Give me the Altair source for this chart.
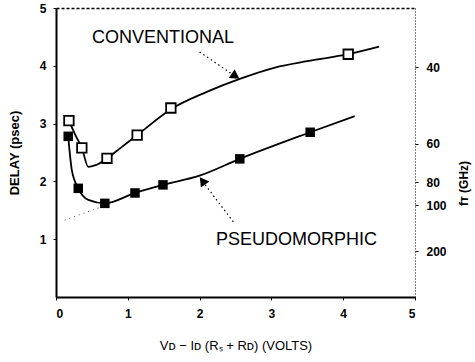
import math
import altair as alt
import pandas as pd

# ---- data ----
conv_line_x = [0.18, 0.27, 0.36, 0.45, 0.55, 0.71, 0.90, 1.13, 1.60, 2.10, 2.55, 3.05, 3.50, 4.07, 4.50]
conv_line_y = [3.05, 2.80, 2.58, 2.25, 2.28, 2.40, 2.58, 2.80, 3.25, 3.55, 3.77, 3.97, 4.08, 4.20, 4.33]
conv_mark_x = [0.18, 0.36, 0.71, 1.13, 1.60, 4.07]
conv_mark_y = [3.05, 2.58, 2.40, 2.80, 3.27, 4.20]

pseu_line_x = [0.17, 0.22, 0.31, 0.45, 0.68, 1.10, 1.49, 2.00, 2.56, 3.54, 4.16]
pseu_line_y = [2.78, 2.20, 1.88, 1.68, 1.62, 1.80, 1.94, 2.10, 2.39, 2.85, 3.13]
pseu_mark_x = [0.17, 0.31, 0.68, 1.10, 1.49, 2.56, 3.54]
pseu_mark_y = [2.78, 1.88, 1.62, 1.80, 1.94, 2.39, 2.85]

extrap_x = [0.12, 0.68]
extrap_y = [1.33, 1.58]

ft_ghz = [40, 60, 80, 100, 200]

labels_text = ["CONVENTIONAL", "PSEUDOMORPHIC"]
labels_x = [1.49, 3.35]
labels_y = [4.48, 0.98]
arrow_x1 = [2.00, 2.47]
arrow_y1 = [4.24, 1.30]
arrow_x2 = [2.52, 2.03]
arrow_y2 = [3.80, 2.02]
head_x = [2.50, 2.04]
head_y = [3.82, 2.01]
head_angle = [124, 324]

FONT = "Liberation Sans"

xs = alt.Scale(domain=[0, 5], nice=False, zero=False)
ys = alt.Scale(domain=[0, 5], nice=False, zero=False)

conv_line = pd.DataFrame({"x": conv_line_x, "y": conv_line_y})
conv_mark = pd.DataFrame({"x": conv_mark_x, "y": conv_mark_y})
pseu_line = pd.DataFrame({"x": pseu_line_x, "y": pseu_line_y})
pseu_mark = pd.DataFrame({"x": pseu_mark_x, "y": pseu_mark_y})
extrap = pd.DataFrame({"x": extrap_x, "y": extrap_y})
ft_df = pd.DataFrame({"f": ft_ghz, "d": [1000 / (2 * math.pi * f) for f in ft_ghz]})
lab_df = pd.DataFrame({"t": labels_text, "x": labels_x, "y": labels_y})
arr_df = pd.DataFrame({"x": arrow_x1, "y": arrow_y1, "x2": arrow_x2, "y2": arrow_y2})
head_df = pd.DataFrame({"x": head_x, "y": head_y, "a": head_angle})

x_axis = alt.Axis(values=[0, 1, 2, 3, 4, 5], title="Vᴅ − Iᴅ (Rₛ + Rᴅ) (VOLTS)",
                  labelFont=FONT, labelFontWeight="bold", labelFontSize=12, labelPadding=8,
                  titleFont=FONT, titleFontWeight="normal", titleFontSize=13, titlePadding=20,
                  domainColor="black", domainWidth=2, tickColor="black", tickSize=3,
                  grid=False, labelColor="black", titleColor="black")
y_axis = alt.Axis(values=[1, 2, 3, 4, 5], title="DELAY (psec)",
                  labelFont=FONT, labelFontWeight="bold", labelFontSize=12, labelPadding=7,
                  titleFont=FONT, titleFontWeight="bold", titleFontSize=13, titlePadding=18,
                  domainColor="black", domainWidth=2, tickColor="black", tickSize=3,
                  grid=False, labelColor="black", titleColor="black")

base_line = alt.Chart(conv_line).mark_line(color="black", strokeWidth=1.8, interpolate="monotone").encode(
    x=alt.X("x:Q", scale=xs, axis=x_axis),
    y=alt.Y("y:Q", scale=ys, axis=y_axis),
)
pseu = alt.Chart(pseu_line).mark_line(color="black", strokeWidth=1.8, interpolate="monotone").encode(
    x=alt.X("x:Q", scale=xs, axis=None), y=alt.Y("y:Q", scale=ys, axis=None))
ext = alt.Chart(extrap).mark_line(color="#555", strokeWidth=1, strokeDash=[1, 4]).encode(
    x=alt.X("x:Q", scale=xs, axis=None), y=alt.Y("y:Q", scale=ys, axis=None))
cm = alt.Chart(conv_mark).mark_point(shape="square", size=90, filled=True, fill="white",
                                     stroke="black", strokeWidth=1.8, opacity=1).encode(
    x=alt.X("x:Q", scale=xs, axis=None), y=alt.Y("y:Q", scale=ys, axis=None))
pm = alt.Chart(pseu_mark).mark_point(shape="square", size=90, filled=True, color="black", opacity=1).encode(
    x=alt.X("x:Q", scale=xs, axis=None), y=alt.Y("y:Q", scale=ys, axis=None))
arrows = alt.Chart(arr_df).mark_rule(color="black", strokeWidth=1.2, strokeDash=[1.5, 3]).encode(
    x=alt.X("x:Q", scale=xs, axis=None), y=alt.Y("y:Q", scale=ys, axis=None), x2="x2:Q", y2="y2:Q")
heads = alt.Chart(head_df).mark_point(shape="triangle-up", size=110, filled=True, color="black", opacity=1).encode(
    x=alt.X("x:Q", scale=xs, axis=None), y=alt.Y("y:Q", scale=ys, axis=None), angle=alt.Angle("a:Q", scale=None))
texts = alt.Chart(lab_df).mark_text(font=FONT, fontSize=18, color="black").encode(
    x=alt.X("x:Q", scale=xs, axis=None), y=alt.Y("y:Q", scale=ys, axis=None), text="t:N")

right_axis = alt.Chart(ft_df).mark_point(opacity=0).encode(
    y=alt.Y("d:Q", scale=ys, axis=alt.Axis(orient="right", values=list(ft_df["d"]),
        labelExpr="round(1000 / (2 * PI * datum.value))", title="fᴛ (GHz)", titleAngle=270,
        titleY=175,
        labelFont=FONT, labelFontWeight="bold", labelFontSize=12, labelPadding=8, labelAlign="left",
        titleFont=FONT, titleFontWeight="bold", titleFontSize=12, titlePadding=24,
        domainColor="black", domainWidth=1, domainDash=[1, 2], tickColor="black", tickSize=3,
        grid=False, labelColor="black", titleColor="black")),
    x=alt.value(0),
)
top_axis = alt.Chart(ft_df).mark_point(opacity=0).encode(
    x=alt.X("f:Q", scale=xs, axis=alt.Axis(orient="top", labels=False, ticks=False, title=None,
        domainColor="black", domainWidth=1.3, domainDash=[3, 2], grid=False)),
    y=alt.value(0),
)

chart = alt.layer(base_line, pseu, ext, cm, pm, arrows, heads, texts, right_axis, top_axis).resolve_axis(
    x="independent", y="independent"
).properties(
    width=359, height=289, padding={"left": 56, "top": 8, "right": 60, "bottom": 65},
    autosize=alt.AutoSizeParams(type="none"), background="white"
).configure_view(stroke=None)

chart.save("out.html", embed_options={"renderer": "svg", "actions": False})
